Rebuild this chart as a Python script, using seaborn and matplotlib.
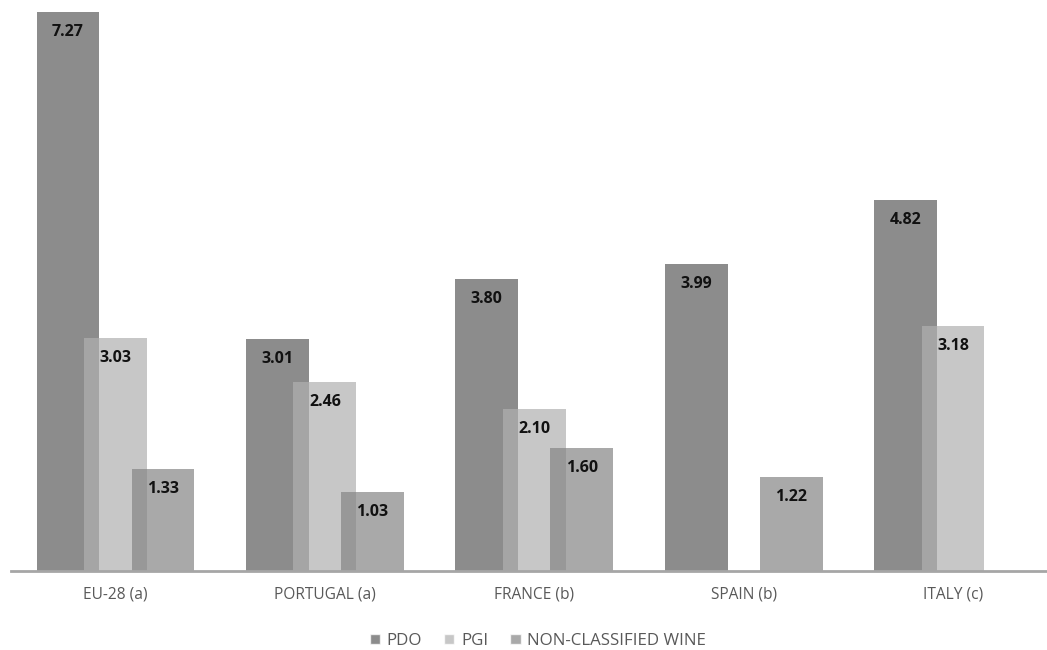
import matplotlib
matplotlib.use("Agg")
import matplotlib.pyplot as plt
import seaborn as sns
import pandas as pd
import numpy as np

# Data
regions = ["EU-28 (a)", "PORTUGAL (a)", "FRANCE (b)", "SPAIN (b)", "ITALY (c)"]
series = ["PDO", "PGI", "NON-CLASSIFIED WINE"]
pdo = [7.27, 3.01, 3.80, 3.99, 4.82]
pgi = [3.03, 2.46, 2.10, np.nan, 3.18]
non_classified = [1.33, 1.03, 1.60, 1.22, np.nan]

colors = ["#5b5b5b", "#b0b0b0", "#858585"]
ALPHA = 0.7

sns.set_theme(style="white")
plt.rcParams["font.family"] = ["Open Sans", "DejaVu Sans"]

df = pd.DataFrame({
    "region": regions * 3,
    "series": [s for s in series for _ in regions],
    "value": pdo + pgi + non_classified,
})

fig = plt.figure(figsize=(10.47, 6.5), dpi=100)
ax = fig.add_axes([0.0103, 79 / 650, 1.0, 571 / 650])

sns.barplot(data=df, x="region", y="value", hue="series", order=regions,
            hue_order=series, palette=colors, width=0.68, dodge=True,
            alpha=ALPHA, saturation=1, errorbar=None, ax=ax, legend=True)

# widen bars so neighbouring series overlap, and label each bar
bar_w = 0.30
for container in ax.containers:
    for patch in container:
        h = patch.get_height()
        if h is None or np.isnan(h) or h == 0:
            continue
        cx = patch.get_x() + patch.get_width() / 2
        patch.set_width(bar_w)
        patch.set_x(cx - bar_w / 2)
        patch.set_edgecolor("none")
        ax.annotate(f"{h:.2f}", xy=(cx, h), xytext=(0, -20),
                    textcoords="offset pixels",
                    ha="center", va="center", fontsize=11.5,
                    fontweight="bold", color="#111111")

ax.set_xlim(-0.5, 4.5)
ax.set_ylim(0, 7.42)
ax.set_xlabel("")
ax.set_ylabel("")
ax.set_yticks([])
ax.tick_params(axis="x", length=0, pad=11, labelsize=11.2, labelcolor="#595959")
for side in ["top", "right", "left"]:
    ax.spines[side].set_visible(False)
ax.spines["bottom"].set_color("#a6a6a6")
ax.spines["bottom"].set_linewidth(2)

handles, labels = ax.get_legend_handles_labels()
ax.get_legend().remove()
fig.legend(handles, labels, loc="center", bbox_to_anchor=(538 / 1047, 1 - 641 / 650),
           ncol=3, frameon=False, fontsize=12.2, labelcolor="#595959",
           handlelength=0.6, handleheight=0.6, handletextpad=0.4, columnspacing=1.3)

fig.savefig("out.png", dpi=100)
